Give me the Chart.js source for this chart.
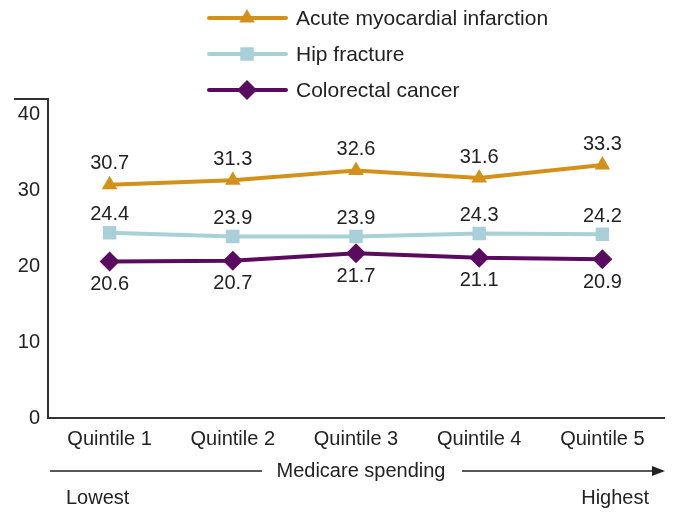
<!DOCTYPE html>
<html>
<head>
<meta charset="utf-8">
<script src="https://cdn.jsdelivr.net/npm/chart.js@4.4.1/dist/chart.umd.min.js"></script>
<style>
  html, body { margin: 0; padding: 0; background: #fff; }
  #wrap { width: 675px; height: 512px; }
</style>
</head>
<body>
<div id="wrap"><canvas id="chart" width="675" height="512"></canvas></div>
<script>
// ---- data ----
const quintiles = ['Quintile 1', 'Quintile 2', 'Quintile 3', 'Quintile 4', 'Quintile 5'];
const amiRates  = [30.7, 31.3, 32.6, 31.6, 33.3];
const hipRates  = [24.4, 23.9, 23.9, 24.3, 24.2];
const crcRates  = [20.6, 20.7, 21.7, 21.1, 20.9];
const yTicks    = [0, 10, 20, 30, 40];

const FONT = "'Liberation Sans', Arial, Helvetica, sans-serif";
const INK  = '#222';

const gold   = '#d4911a';
const blue   = '#a9d0d9';
const purple = '#5b0b5f';

// legend drawn as line + marker, like the original
const legendPlugin = {
    id: 'lineLegend',
    afterDraw(chart) {
        const ctx = chart.ctx;
        const rows = [18, 54, 90];
        ctx.save();
        chart.data.datasets.forEach((ds, i) => {
            const y = rows[i];
            ctx.strokeStyle = ds.borderColor;
            ctx.lineWidth = 4;
            ctx.lineCap = 'round';
            ctx.beginPath();
            ctx.moveTo(209, y);
            ctx.lineTo(286, y);
            ctx.stroke();
            ctx.fillStyle = ds.pointBackgroundColor;
            Chart.helpers.drawPoint(ctx, { pointStyle: ds.pointStyle, radius: ds.pointRadius, rotation: 0, borderWidth: 0 }, 247, y);
            ctx.fillStyle = INK;
            ctx.font = `21px ${FONT}`;
            ctx.textAlign = 'left';
            ctx.textBaseline = 'middle';
            ctx.fillText(ds.label, 296, y + 1);
        });
        ctx.restore();
    }
};

// value labels next to each point
const valueLabels = {
    id: 'valueLabels',
    afterDatasetsDraw(chart) {
        const ctx = chart.ctx;
        ctx.save();
        ctx.font = `20px ${FONT}`;
        ctx.fillStyle = INK;
        ctx.textAlign = 'center';
        ctx.textBaseline = 'middle';
        chart.data.datasets.forEach((ds, i) => {
            chart.getDatasetMeta(i).data.forEach((pt, j) => {
                ctx.fillText(ds.data[j].toFixed(1), pt.x, pt.y + ds.labelOffset);
            });
        });
        ctx.restore();
    }
};

// axis cap at top, spending arrow and Lowest/Highest
const extras = {
    id: 'extras',
    afterDraw(chart) {
        const ctx = chart.ctx;
        const a = chart.chartArea;
        ctx.save();
        ctx.strokeStyle = '#333';
        ctx.lineWidth = 2;
        ctx.beginPath();
        ctx.moveTo(14, a.top);
        ctx.lineTo(a.left, a.top);
        ctx.stroke();

        const y = 471;
        ctx.lineWidth = 1.3;
        ctx.strokeStyle = '#222';
        ctx.beginPath();
        ctx.moveTo(50, y);
        ctx.lineTo(262, y);
        ctx.moveTo(462, y);
        ctx.lineTo(655, y);
        ctx.stroke();
        ctx.fillStyle = '#222';
        ctx.beginPath();
        ctx.moveTo(665, y);
        ctx.lineTo(652, y - 5);
        ctx.lineTo(652, y + 5);
        ctx.closePath();
        ctx.fill();

        ctx.font = `20px ${FONT}`;
        ctx.fillStyle = INK;
        ctx.textBaseline = 'middle';
        ctx.textAlign = 'center';
        ctx.fillText('Medicare spending', 361, y);
        ctx.textAlign = 'left';
        ctx.fillText('Lowest', 66, 498);
        ctx.textAlign = 'right';
        ctx.fillText('Highest', 649, 498);
        ctx.restore();
    }
};

new Chart(document.getElementById('chart'), {
    type: 'line',
    data: {
        labels: quintiles,
        datasets: [
            {
                label: 'Acute myocardial infarction', data: amiRates,
                borderColor: gold, backgroundColor: gold, pointBackgroundColor: gold, pointBorderColor: gold,
                pointStyle: 'triangle', pointRadius: 9, pointBorderWidth: 0, borderWidth: 4, labelOffset: -21
            },
            {
                label: 'Hip fracture', data: hipRates,
                borderColor: blue, backgroundColor: blue, pointBackgroundColor: blue, pointBorderColor: blue,
                pointStyle: 'rect', pointRadius: 9.5, pointBorderWidth: 0, borderWidth: 4, labelOffset: -18
            },
            {
                label: 'Colorectal cancer', data: crcRates,
                borderColor: purple, backgroundColor: purple, pointBackgroundColor: purple, pointBorderColor: purple,
                pointStyle: 'rectRot', pointRadius: 10, pointBorderWidth: 0, borderWidth: 4, labelOffset: 23
            }
        ]
    },
    options: {
        responsive: false,
        animation: false,
        layout: { padding: { top: 99, right: 11, left: 0, bottom: 0 } },
        plugins: { legend: { display: false }, tooltip: { enabled: false } },
        scales: {
            x: {
                offset: true,
                grid: { display: false, drawTicks: false },
                border: { display: true, color: '#333', width: 2 },
                ticks: { color: INK, padding: 9, font: { family: FONT, size: 20 }, maxRotation: 0 },
                afterFit: (s) => { s.height = 94; }
            },
            y: {
                min: 0, max: 42,
                afterBuildTicks: (s) => { s.ticks = yTicks.map(v => ({ value: v })); },
                grid: { display: false, drawTicks: false },
                border: { display: true, color: '#333', width: 2 },
                ticks: { color: INK, padding: 8, font: { family: FONT, size: 20 } },
                afterFit: (s) => { s.width = 48; }
            }
        }
    },
    plugins: [legendPlugin, valueLabels, extras]
});
</script>
</body>
</html>
